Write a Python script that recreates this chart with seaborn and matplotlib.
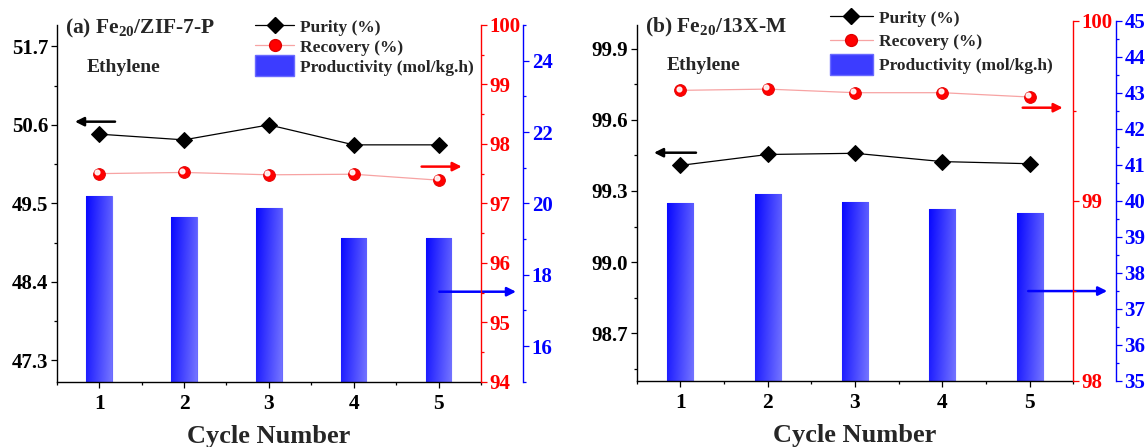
import numpy as np
import seaborn as sns
import matplotlib.pyplot as plt
import matplotlib.transforms as mtransforms
from matplotlib.ticker import MultipleLocator, FixedLocator, FormatStrFormatter
from matplotlib.colors import LinearSegmentedColormap
from matplotlib.lines import Line2D
from matplotlib.patches import Patch, Rectangle
from matplotlib.legend_handler import HandlerPatch

cycles = [1, 2, 3, 4, 5]

# (a) Fe20/ZIF-7-P
purity_a = [50.47, 50.39, 50.60, 50.32, 50.32]
recovery_a = [97.50, 97.52, 97.48, 97.49, 97.39]
productivity_a = [20.20, 19.63, 19.86, 19.02, 19.02]

# (b) Fe20/13X-M
purity_b = [99.408, 99.454, 99.459, 99.424, 99.415]
recovery_b = [99.613, 99.620, 99.600, 99.600, 99.576]
productivity_b = [39.93, 40.20, 39.97, 39.77, 39.66]

W, H = 1148, 447
sns.set_theme(style='ticks')
plt.rcParams['font.family'] = ['Liberation Serif', 'DejaVu Serif']
plt.rcParams['font.weight'] = 'bold'
plt.rcParams['mathtext.fontset'] = 'custom'
plt.rcParams['mathtext.rm'] = 'Liberation Serif:bold'
plt.rcParams['mathtext.default'] = 'rm'

RED = '#ff0000'
BLUE = '#0000ff'
bar_cmap = LinearSegmentedColormap.from_list('bar', ['#0808ff', '#7474ff'])

fig = plt.figure(figsize=(W / 100, H / 100), dpi=100)


def box(x0, x1, ytop, ybot):
    return [x0 / W, 1 - ybot / H, (x1 - x0) / W, (ybot - ytop) / H]


def style_ticks(a, axis, color):
    a.tick_params(axis=axis, which='both', direction='out', colors=color,
                  width=0.9, labelsize=15, pad=1.5)
    a.tick_params(axis=axis, which='major', length=4.5)
    a.tick_params(axis=axis, which='minor', length=2.5)


def gradient_bars(a):
    ylo = a.get_ylim()[0]
    grad = np.linspace(0, 1, 60)[None, :] * 0.78 + np.linspace(0, 1, 120)[:, None] * 0.22
    for p in list(a.patches):
        x0, y0, x1, y1 = p.get_bbox().extents
        im = a.imshow(grad, extent=[x0, x1, max(y0, ylo), y1], aspect='auto',
                      cmap=bar_cmap, vmin=0, vmax=1, zorder=p.get_zorder() + 0.1)
        im.set_clip_path(p)


def panel(main_box, twin_box, blue_pos, purity, recovery, prod,
          p_lim, p_major, p_minor, r_lim, r_major, r_minor,
          b_lim, b_major, b_minor, arrows):
    ax_b = fig.add_axes(twin_box)
    ax = fig.add_axes(main_box, sharex=ax_b)
    ax_r = fig.add_axes(twin_box, sharex=ax_b)
    ax_b.set_zorder(1)
    ax.set_zorder(2)
    ax_r.set_zorder(3)
    for a in (ax, ax_r, ax_b):
        a.patch.set_visible(False)
        for s in a.spines.values():
            s.set_visible(False)
            s.set_linewidth(1.0)

    # productivity bars
    sns.barplot(x=cycles, y=prod, native_scale=True, width=0.3, errorbar=None,
                color='#4040ff', edgecolor='#6a6aff', linewidth=0.8, ax=ax_b)
    ax_b.set_ylim(*b_lim)
    gradient_bars(ax_b)
    ax_b.set_ylim(*b_lim)

    # purity line
    sns.lineplot(x=cycles, y=purity, color='black', linewidth=0.9, marker='D',
                 markersize=8, markeredgecolor='black', legend=False, ax=ax)
    # recovery line
    sns.lineplot(x=cycles, y=recovery, color='#f7a3a3', linewidth=0.9, marker='o',
                 markersize=8.5, markerfacecolor=RED, markeredgecolor='#e00000',
                 markeredgewidth=0.6, legend=False, ax=ax_r)
    shift = mtransforms.ScaledTranslation(-1.3 / 72, 1.3 / 72, fig.dpi_scale_trans)
    ax_r.plot(cycles, recovery, linestyle='none', marker='o', markersize=3.4,
              color='white', alpha=0.9, transform=ax_r.transData + shift)

    ax.set_ylim(*p_lim)
    ax_r.set_ylim(*r_lim)
    ax_b.set_xlim(0.5, 5.5)

    # main axes: left + bottom
    ax.spines['left'].set_visible(True)
    ax.spines['bottom'].set_visible(True)
    ax.spines['left'].set_color('black')
    ax.spines['bottom'].set_color('black')
    ax.yaxis.set_major_locator(FixedLocator(p_major))
    ax.yaxis.set_minor_locator(FixedLocator(p_minor))
    ax.yaxis.set_major_formatter(FormatStrFormatter('%.1f'))
    ax.xaxis.set_major_locator(FixedLocator(cycles))
    ax.xaxis.set_minor_locator(MultipleLocator(0.5))
    ax.set_xticklabels([str(c) for c in cycles])
    ax.set_ylabel('')
    ax.set_xlabel('Cycle Number', fontsize=19, fontweight='bold', labelpad=8)
    style_ticks(ax, 'y', 'black')
    style_ticks(ax, 'x', 'black')
    ax.tick_params(axis='x', pad=4, labelsize=15.5)

    # red axis
    ax_r.spines['right'].set_visible(True)
    ax_r.spines['right'].set_color(RED)
    ax_r.yaxis.tick_right()
    ax_r.xaxis.set_visible(False)
    ax_r.yaxis.set_major_locator(MultipleLocator(r_major))
    ax_r.yaxis.set_minor_locator(MultipleLocator(r_minor))
    ax_r.yaxis.set_major_formatter(FormatStrFormatter('%d'))
    ax_r.set_ylabel('')
    style_ticks(ax_r, 'y', RED)

    # blue axis
    ax_b.spines['right'].set_visible(True)
    ax_b.spines['right'].set_color(BLUE)
    ax_b.spines['right'].set_position(('axes', blue_pos))
    ax_b.yaxis.tick_right()
    ax_b.xaxis.set_visible(False)
    ax_b.yaxis.set_major_locator(MultipleLocator(b_major))
    ax_b.yaxis.set_minor_locator(MultipleLocator(b_minor))
    ax_b.yaxis.set_major_formatter(FormatStrFormatter('%d'))
    ax_b.set_ylabel('')
    style_ticks(ax_b, 'y', BLUE)

    for (xs, xe, y, col) in arrows:
        ax.annotate('', xy=(xe, y), xytext=(xs, y), xycoords='axes fraction',
                    textcoords='axes fraction', annotation_clip=False,
                    arrowprops=dict(arrowstyle='-|>', color=col, lw=1.8,
                                    mutation_scale=13, shrinkA=0, shrinkB=0))
    return [ax, ax_r, ax_b]


axes = []
axes += panel(box(56.7, 481, 25, 381.7), box(56.7, 481, 25, 381.7), 1.0997,
              purity_a, recovery_a, productivity_a,
              (47.0, 52.0), np.arange(47.3, 51.8, 1.1), np.arange(47.85, 52.0, 1.1),
              (94, 100), 1, 0.5, (15, 25), 2, 1,
              [(0.1375, 0.0431, 0.729, 'black'), (0.860, 0.9545, 0.603, RED),
               (0.9017, 1.0825, 0.2523, BLUE)])

axes += panel(box(636.7, 1073.3, 25, 380.7), box(636.7, 1073.3, 20.7, 380.7), 1.0978,
              purity_b, recovery_b, productivity_b,
              (98.5, 100.0), np.arange(98.7, 99.95, 0.3), np.arange(98.55, 100.0, 0.3),
              (98, 100), 1, 0.5, (35, 45), 1, 0.5,
              [(0.1358, 0.0396, 0.641, 'black'), (0.8841, 0.9757, 0.7675, RED),
               (0.8967, 1.0776, 0.252, BLUE)])

# panel titles and gas labels
fig.text(65 / W, 1 - 33 / H, '(a) Fe$_{20}$/ZIF-7-P', fontsize=15.5,
         fontweight='bold', va='baseline', ha='left')
fig.text(645 / W, 1 - 32.5 / H, '(b) Fe$_{20}$/13X-M', fontsize=15.5,
         fontweight='bold', va='baseline', ha='left')
fig.text(87 / W, 1 - 71.5 / H, 'Ethylene', fontsize=14, fontweight='bold',
         va='baseline', ha='left')
fig.text(667 / W, 1 - 69.5 / H, 'Ethylene', fontsize=14, fontweight='bold',
         va='baseline', ha='left')


# legends
def big_rect(legend, orig_handle, xdescent, ydescent, width, height, fontsize):
    return Rectangle((-xdescent, -ydescent - 2.5), width, height + 5,
                     facecolor='#3c3cff', edgecolor='#6a6aff', linewidth=0.8)


handles = [
    Line2D([], [], color='black', lw=0.9, marker='D', markersize=8),
    Line2D([], [], color='#f7a3a3', lw=0.9, marker='o', markersize=8.5,
           markerfacecolor=RED, markeredgecolor='#e00000'),
    Patch(facecolor='#3c3cff', edgecolor='#6a6aff'),
]
labels = ['Purity (%)', 'Recovery (%)', 'Productivity (mol/kg.h)']
for x_px, top_px, hl, sp in [(255, 18.5, 2.25, 0.16), (830, 9.5, 2.45, 0.38)]:
    fig.legend(handles, labels, loc='upper left',
               bbox_to_anchor=(x_px / W, 1 - top_px / H), frameon=False,
               prop={'family': 'Liberation Serif', 'weight': 'bold', 'size': 12.5},
               handlelength=hl, handleheight=0.9, handletextpad=0.35,
               labelspacing=sp, borderpad=0, borderaxespad=0,
               handler_map={Patch: HandlerPatch(patch_func=big_rect)})

fig.canvas.draw()
for a in axes:
    for lab in a.get_xticklabels() + a.get_yticklabels():
        lab.set_fontweight('bold')

fig.savefig('out.png', dpi=100)
